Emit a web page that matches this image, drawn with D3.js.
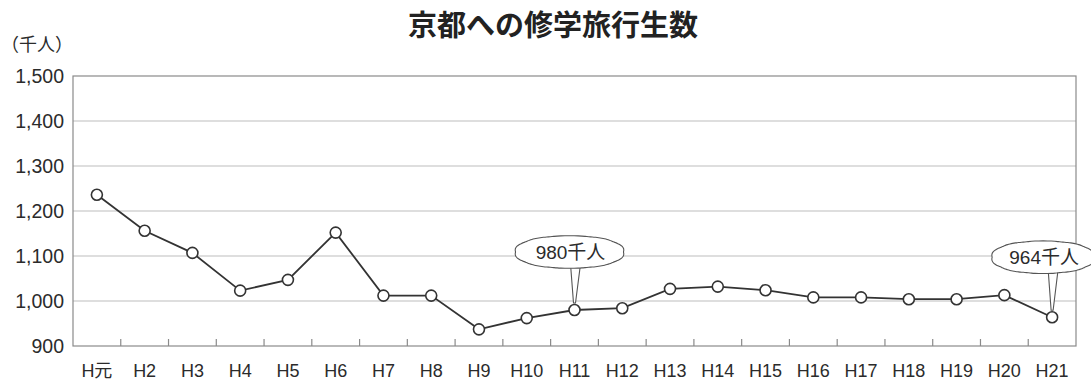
<!DOCTYPE html>
<html>
<head>
<meta charset="utf-8">
<script src="https://cdn.jsdelivr.net/npm/d3@7"></script>
<style>
  html, body { margin: 0; padding: 0; background: #fff; }
  svg { display: block; }
  text { font-family: "Liberation Sans", Arial, "Noto Sans CJK JP", sans-serif; fill: #2b2b2b; }
  .jp { font-family: "Noto Sans CJK JP", sans-serif; }
</style>
</head>
<body>
<svg id="chart" width="1091" height="382"></svg>
<script>
// 年度（平成）
const years = ["H元","H2","H3","H4","H5","H6","H7","H8","H9","H10","H11",
               "H12","H13","H14","H15","H16","H17","H18","H19","H20","H21"];
// 修学旅行生数（千人）
const students = [1236, 1156, 1107, 1023, 1047, 1152, 1012, 1012, 937, 962, 980,
                  984, 1027, 1032, 1024, 1008, 1008, 1004, 1004, 1013, 964];
// 縦軸目盛
const yTicks = [900, 1000, 1100, 1200, 1300, 1400, 1500];
// 吹き出しで示す年度
const calloutYears = ["H11", "H21"];

const svg = d3.select("#chart");
const plotLeft = 73, plotRight = 1076, plotTop = 76, plotBottom = 346;

const x = d3.scaleBand().domain(years).range([plotLeft, plotRight]);
const y = d3.scaleLinear().domain([900, 1500]).range([plotBottom, plotTop]);
const cx = d => x(d) + x.bandwidth() / 2;

// タイトル
svg.append("text")
  .attr("class", "jp")
  .attr("x", 553).attr("y", 36)
  .attr("text-anchor", "middle")
  .attr("font-size", 29).attr("font-weight", "bold")
  .style("fill", "#222")
  .text("京都への修学旅行生数");

// 単位
svg.append("text")
  .attr("class", "jp")
  .attr("x", 1).attr("y", 51)
  .attr("font-size", 18)
  .text("（千人）");

// 横グリッド線
svg.append("g").selectAll("line")
  .data(yTicks.filter(v => v > 900 && v < 1500))
  .join("line")
  .attr("x1", plotLeft).attr("x2", plotRight)
  .attr("y1", d => y(d)).attr("y2", d => y(d))
  .attr("stroke", "#bdbdbd").attr("stroke-width", 1.2);

// 縦軸ラベル
svg.append("g").selectAll("text")
  .data(yTicks)
  .join("text")
  .attr("x", 64).attr("y", d => y(d))
  .attr("dy", "0.36em")
  .attr("text-anchor", "end")
  .attr("font-size", 19.5)
  .text(d => d3.format(",")(d));

// 枠
svg.append("rect")
  .attr("x", plotLeft).attr("y", plotTop)
  .attr("width", plotRight - plotLeft).attr("height", plotBottom - plotTop)
  .attr("fill", "none").attr("stroke", "#8a8a8a").attr("stroke-width", 1.2);

// 横軸の区切り目盛
svg.append("g").selectAll("line")
  .data(years.slice(1))
  .join("line")
  .attr("x1", d => x(d)).attr("x2", d => x(d))
  .attr("y1", plotBottom).attr("y2", plotBottom - 7)
  .attr("stroke", "#8a8a8a").attr("stroke-width", 1.2);

// 横軸ラベル
svg.append("g").selectAll("text")
  .data(years)
  .join("text")
  .attr("x", d => cx(d)).attr("y", 377)
  .attr("text-anchor", "middle")
  .attr("font-size", 18)
  .text(d => d);

// 折れ線
const series = years.map((yr, i) => ({ yr, v: students[i] }));
svg.append("path")
  .datum(series)
  .attr("fill", "none")
  .attr("stroke", "#333")
  .attr("stroke-width", 1.8)
  .attr("d", d3.line().x(d => cx(d.yr)).y(d => y(d.v)));

// 吹き出し（雲形）
const bubbleSpec = { H11: { dx: -5, dy: -58, rx: 54, ry: 16 },
                     H21: { dx: -9, dy: -60, rx: 51, ry: 16 } };
function cloudPath(ox, oy, rx, ry) {
  const n = 96, p = 2.2;
  const pts = d3.range(0, n).map(i => {
    const a = i / n * Math.PI * 2;
    const c = Math.cos(a), s = Math.sin(a);
    const sx = Math.sign(c) * Math.pow(Math.abs(c), 2 / p);
    const sy = Math.sign(s) * Math.pow(Math.abs(s), 2 / p);
    const bump = 1 + 0.02 * Math.abs(Math.sin(a * 5));
    return [ox + sx * rx * bump, oy + sy * ry * bump];
  });
  return d3.line().curve(d3.curveCardinalClosed)(pts);
}
const callouts = svg.append("g");
calloutYears.forEach(yr => {
  const i = years.indexOf(yr);
  const px = cx(yr), py = y(students[i]);
  const s = bubbleSpec[yr];
  const bx = px + s.dx, by = py + s.dy;
  // しっぽ
  callouts.append("path")
    .attr("d", `M${px - 4},${by + s.ry - 4} L${px - 1},${py - 7} L${px + 1},${py - 7} L${px + 6},${by + s.ry - 4} Z`)
    .attr("fill", "#fff").attr("stroke", "#555").attr("stroke-width", 1.1);
  callouts.append("path")
    .attr("d", cloudPath(bx, by, s.rx, s.ry))
    .attr("fill", "#fff").attr("stroke", "#555").attr("stroke-width", 1.1);
  // しっぽ付け根の枠線を消す
  callouts.append("rect")
    .attr("x", px - 3).attr("y", by + s.ry - 6)
    .attr("width", 8).attr("height", 5)
    .attr("fill", "#fff");
  callouts.append("text")
    .attr("x", bx + 1).attr("y", by)
    .attr("dy", "0.36em")
    .attr("text-anchor", "middle")
    .attr("font-size", 19)
    .text(`${students[i]}千人`);
});

// マーカー
svg.append("g").selectAll("circle")
  .data(series)
  .join("circle")
  .attr("cx", d => cx(d.yr)).attr("cy", d => y(d.v))
  .attr("r", 5.5)
  .attr("fill", "#fff")
  .attr("stroke", "#333")
  .attr("stroke-width", 1.6);
</script>
</body>
</html>
